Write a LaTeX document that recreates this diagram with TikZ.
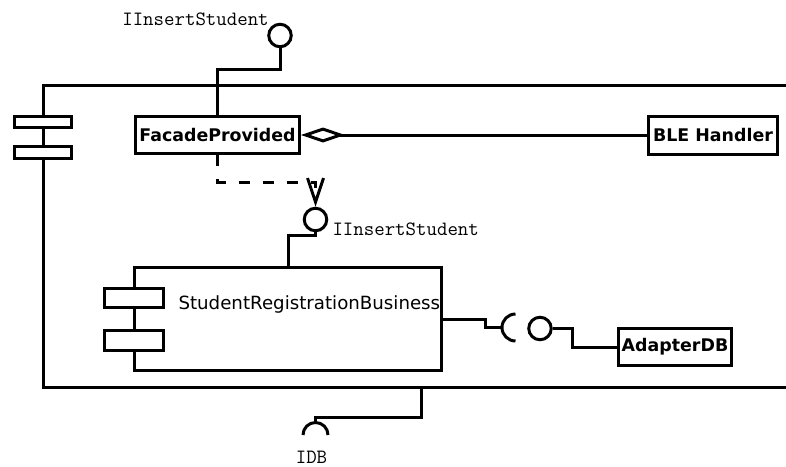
\documentclass[tikz,border=0pt]{standalone}
\usepackage{fontspec}
\newfontfamily\umlsans{DejaVu Sans}
\usetikzlibrary{arrows.meta,calc}

\begin{document}
\begin{tikzpicture}[x=1pt,y=1pt,
  line width=3pt,
  comp/.style={draw, fill=white, inner sep=0pt,
    font=\umlsans\bfseries\fontsize{17.4}{20}\selectfont},
  ball/.style={circle, draw, fill=white, minimum size=22.5pt, inner sep=0pt},
  tabbox/.style={draw, fill=white},
  iface/.style={font=\ttfamily\fontsize{20.3}{24}\selectfont, inner sep=0pt},
  dep/.style={dash pattern=on 11pt off 13pt},
]
\useasboundingbox (0,0) rectangle (786,-466);
\clip (0,0) rectangle (786,-466);

% enclosing component (runs off to the right)
\draw (800,-85) -- (43,-85) -- (43,-387) -- (800,-387);
\draw[tabbox] (14.5,-116.5) rectangle (71.5,-127.5);
\draw[tabbox] (14.5,-146.5) rectangle (71.5,-158.5);

% parts
\node[comp, minimum width=164pt, minimum height=37pt] (facade) at (217.5,-135) {FacadeProvided};
\node[comp, minimum width=129pt, minimum height=38pt] (ble) at (713,-135) {BLE Handler};
\node[comp, minimum width=113pt, minimum height=37pt] (adapter) at (675,-347) {AdapterDB};

\node[draw, fill=white, minimum width=307pt, minimum height=103pt, inner sep=0pt] (srb) at (288,-319) {};
\draw[tabbox] (104.5,-288.5) rectangle (163.5,-307.5);
\draw[tabbox] (104.5,-330.5) rectangle (163.5,-350.5);
\node[anchor=base west, inner sep=0pt, font=\umlsans\fontsize{18.2}{22}\selectfont] (srbname) at (177,-309) {StudentRegistrationBusiness};

% provided interfaces
\node[ball] (ball1) at (280,-35.5) {};
\node[iface, anchor=base] (lbl1) at (195.5,-25) {IInsertStudent};
\draw (ball1.south) -- ++(0,-21) -| (facade.north);

\node[ball] (ball2) at (315.5,-219.5) {};
\node[iface, anchor=base west] (lbl2) at (331,-235) {IInsertStudent};
\draw (ball2.south) -- ++(0,-3.5) -| (srb.north);

\node[ball] (ball3) at (540,-328.5) {};
\draw (ball3.east) -- ++(19.5,0) |- (adapter.west);

% aggregation
\draw[{Diamond[open,length=44pt,width=15pt]}-] (facade.east) -- (ble.west);

% delegation dependency
\draw[dep, -{Straight Barb[length=24pt,width=16pt]}] (facade.south) -- ++(0,-27) -| (ball2.north);

% required DB socket
\coordinate (dbreq) at (502,-327.5);
\draw (srb.east) -- ++(42,0) |- (dbreq);
\draw ($(dbreq)+(13.5,13.5)$) arc[start angle=90, end angle=270, radius=13.5];

% required IDB on the outer boundary
\coordinate (idbport) at (421,-387);
\coordinate (idbsock) at (315.5,-422.5);
\draw (idbport) -- ++(0,-30) -| (idbsock);
\draw ($(idbsock)+(-12.5,-12.5)$) arc[start angle=180, end angle=0, radius=12.5];
\node[iface, anchor=base] (lbl3) at (311.5,-463) {IDB};
\end{tikzpicture}
\end{document}
